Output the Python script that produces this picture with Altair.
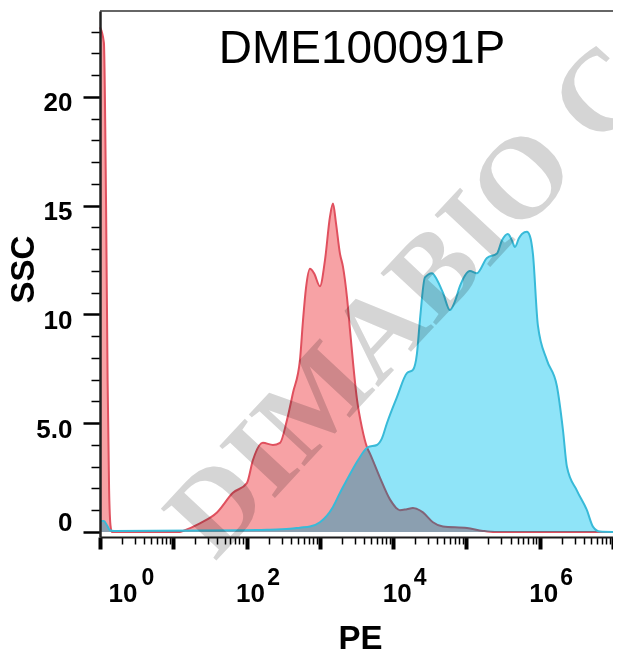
import altair as alt
import pandas as pd

# ---------------- data ----------------
red_pe = [1.0, 1.13, 1.21, 1.27, 1.33, 1.39, 1.45,
          12.3, 13.6, 23.1, 39.5, 65.2, 101, 122, 167, 229, 286,
          356, 430, 535, 588, 646, 733, 831, 1003, 1175, 1375,
          1510, 1660, 1880, 2066, 2343, 2576, 3210, 3753, 4394, 4828,
          6605, 9040, 12380, 15420, 18620, 25500, 34900, 47800, 101600, 168000,
          245000, 10000000]
red_count = [23.2, 22.5, 15, 7, 2, 0.3, 0,
             0, 0.05, 0.4, 0.9, 1.8, 2.25, 3.3, 4.1, 4.0, 4.1,
             5.15, 6.4, 7.9, 9.7, 11.2, 12.1, 11.9, 11.3, 12.5, 14.5,
             15.1, 14.2, 12.8, 12.2, 10.8, 9.3, 6.1, 4.8, 3.9, 3.6,
             2.5, 1.5, 1.0, 1.05, 1.1, 0.9, 0.45, 0.25, 0.18, 0.05,
             0, 0]

cyan_pe = [1.0, 1.13, 1.25, 1.37, 1.55, 81, 190, 391, 535, 733,
           1003, 1250, 1510, 1880, 2343, 3311, 4530, 6010, 7030, 8224,
           11270, 15420, 18620, 21130, 23220, 27160, 33830, 39600, 47800, 59540,
           69660, 81500, 111600, 139000, 190500, 260800, 305000, 368000, 418000, 459000,
           520000, 572000, 669000, 735000, 807000, 944000, 1253000, 1717000, 2074000, 2351000,
           3219000, 4406000, 5321000, 6629000, 10000000]
cyan_count = [0.5, 0.5, 0.3, 0.08, 0.05, 0.08, 0.1, 0.15, 0.2, 0.25,
              0.45, 0.75, 1.15, 1.8, 2.4, 3.3, 3.9, 4.0, 4.3, 5.0,
              6.2, 7.3, 7.45, 8.2, 9.75, 11.7, 11.9, 11.6, 11.0, 10.2,
              10.6, 11.3, 12.0, 11.9, 12.6, 12.8, 13.4, 13.7, 13.4, 13.1,
              13.5, 13.7, 13.8, 13.6, 12.8, 9.5, 7.9, 6.7, 4.7, 3.0,
              1.9, 1.0, 0.25, 0.02, 0]

decades = [1, 100, 10000, 1000000]
label_base = ["10", "10", "10", "10"]
label_exp = ["0", "2", "4", "6"]
minor_multipliers = [1, 2, 3, 4, 5, 6, 7, 8, 9]
decade_exponents = [0, 1, 2, 3, 4, 5, 6]
y_ticks = list(range(0, 24))
title_text = "DME100091P"
watermark_text = "DIMABIO C"
x_title = "PE"
y_title = "SSC"

x_ticks = [m * 10 ** e for e in decade_exponents for m in minor_multipliers] + [10 ** 7]

red_df = pd.DataFrame({"pe": red_pe, "count": red_count})
cyan_df = pd.DataFrame({"pe": cyan_pe, "count": cyan_count})
lab_df = pd.DataFrame({"pe": decades, "base": label_base, "exp": label_exp})

W, H = 513, 526
FONT = "Liberation Sans"

xscale = alt.Scale(type="log", domain=[1, 10000000], nice=False)
yscale = alt.Scale(domain=[-0.23, 23.95], nice=False, zero=False)

major_x = "abs(log(datum.value)/LN10 - round(log(datum.value)/LN10)) < 0.001"
major_y = "datum.value % 5 == 0"

x_axis = alt.Axis(
    values=x_ticks, labels=False, grid=False, zindex=1,
    domainColor="#1a1a1a", domainWidth=2,
    tickColor="black",
    tickSize={"condition": {"test": major_x, "value": 12}, "value": 7},
    tickWidth={"condition": {"test": major_x, "value": 4}, "value": 1.5},
    title=x_title, titleFont=FONT, titleFontSize=33, titleFontWeight="bold",
    titleColor="black", titleX=260, titleY=111, titleBaseline="alphabetic",
    titleAlign="center",
)

y_axis = alt.Axis(
    values=y_ticks, grid=False, zindex=1,
    labelExpr="datum.value % 5 == 0 ? (datum.value == 5 ? '5.0' : datum.label) : ''",
    labelFont=FONT, labelFontSize=26, labelFontWeight="bold", labelColor="black",
    labelBaseline="middle", labelAlign="right", labelOverlap=False, labelFlush=False,
    labelBound=False,
    labelOffset={"condition": {"test": "datum.value == 0", "value": -9}, "value": 6},
    labelPadding=11,
    domainColor="#222222", domainWidth=2.5,
    tickColor="black",
    tickSize={"condition": {"test": major_y, "value": 17}, "value": 9},
    tickWidth={"condition": {"test": major_y, "value": 2.5}, "value": 1.5},
    title=y_title, titleFont=FONT, titleFontSize=33, titleFontWeight="bold",
    titleColor="black", titleAngle=270, titleX=-67, titleY=258,
    titleBaseline="alphabetic", titleAlign="center",
)

X = alt.X("pe:Q", scale=xscale, axis=x_axis)
Y = alt.Y("count:Q", scale=yscale, axis=y_axis)

red_area = alt.Chart(red_df).mark_area(color="#F7A2A5", interpolate="monotone").encode(
    x=X, y=Y, y2=alt.datum(0),
)
red_line = alt.Chart(red_df).mark_line(color="#E0505E", strokeWidth=2, interpolate="monotone").encode(
    x=X, y=Y,
)
cyan_area = alt.Chart(cyan_df).mark_area(color="#8FE4F8", interpolate="monotone", blend="multiply").encode(
    x=X, y=Y, y2=alt.datum(0),
)
cyan_wash = alt.Chart(cyan_df).mark_area(color="#8FE4F8", interpolate="monotone", opacity=0.18).encode(
    x=X, y=Y, y2=alt.datum(0),
)
cyan_line = alt.Chart(cyan_df).mark_line(color="#38BAD8", strokeWidth=2, interpolate="monotone").encode(
    x=X, y=Y,
)

one = lab_df[lab_df["pe"] == 1]

watermark = alt.Chart(one).mark_text(
    text=watermark_text, font="Liberation Serif", fontWeight="bold", fontSize=116,
    angle=313, align="left", baseline="alphabetic", color="#D5D5D5", blend="multiply",
).encode(x=alt.value(115), y=alt.value(551))

top_line = alt.Chart(one).mark_rule(color="#666666", strokeWidth=2).encode(
    x=alt.value(0), x2=alt.value(W), y=alt.value(0)
)

title = alt.Chart(one).mark_text(
    text=title_text, font=FONT, fontSize=46, align="center", baseline="alphabetic", color="black"
).encode(x=alt.value(262), y=alt.value(52))

def tick_text(filt, field, size, dx, ypix):
    return alt.Chart(lab_df).transform_filter(filt).mark_text(
        font=FONT, fontSize=size, fontWeight="bold", align="center", baseline="alphabetic",
        color="black", dx=dx,
    ).encode(x=X, y=alt.value(ypix), text=f"{field}:N")

base0 = tick_text("datum.pe == 1", "base", 26, 23, 591)
base_rest = tick_text("datum.pe > 1", "base", 26, 4, 591)
exp0 = tick_text("datum.pe == 1", "exp", 23, 48, 574)
exp_rest = tick_text("datum.pe > 1", "exp", 23, 27, 574)

chart = alt.layer(
    red_area, red_line, cyan_area, cyan_wash, cyan_line, watermark, top_line, title,
    base0, base_rest, exp0, exp_rest,
).properties(
    width=W, height=H,
    autosize=alt.AutoSizeParams(type="none"),
    padding={"left": 92, "top": 3, "right": 0, "bottom": 115},
).configure_view(strokeOpacity=0)

chart.save("out.html", embed_options={"renderer": "svg", "actions": False})
